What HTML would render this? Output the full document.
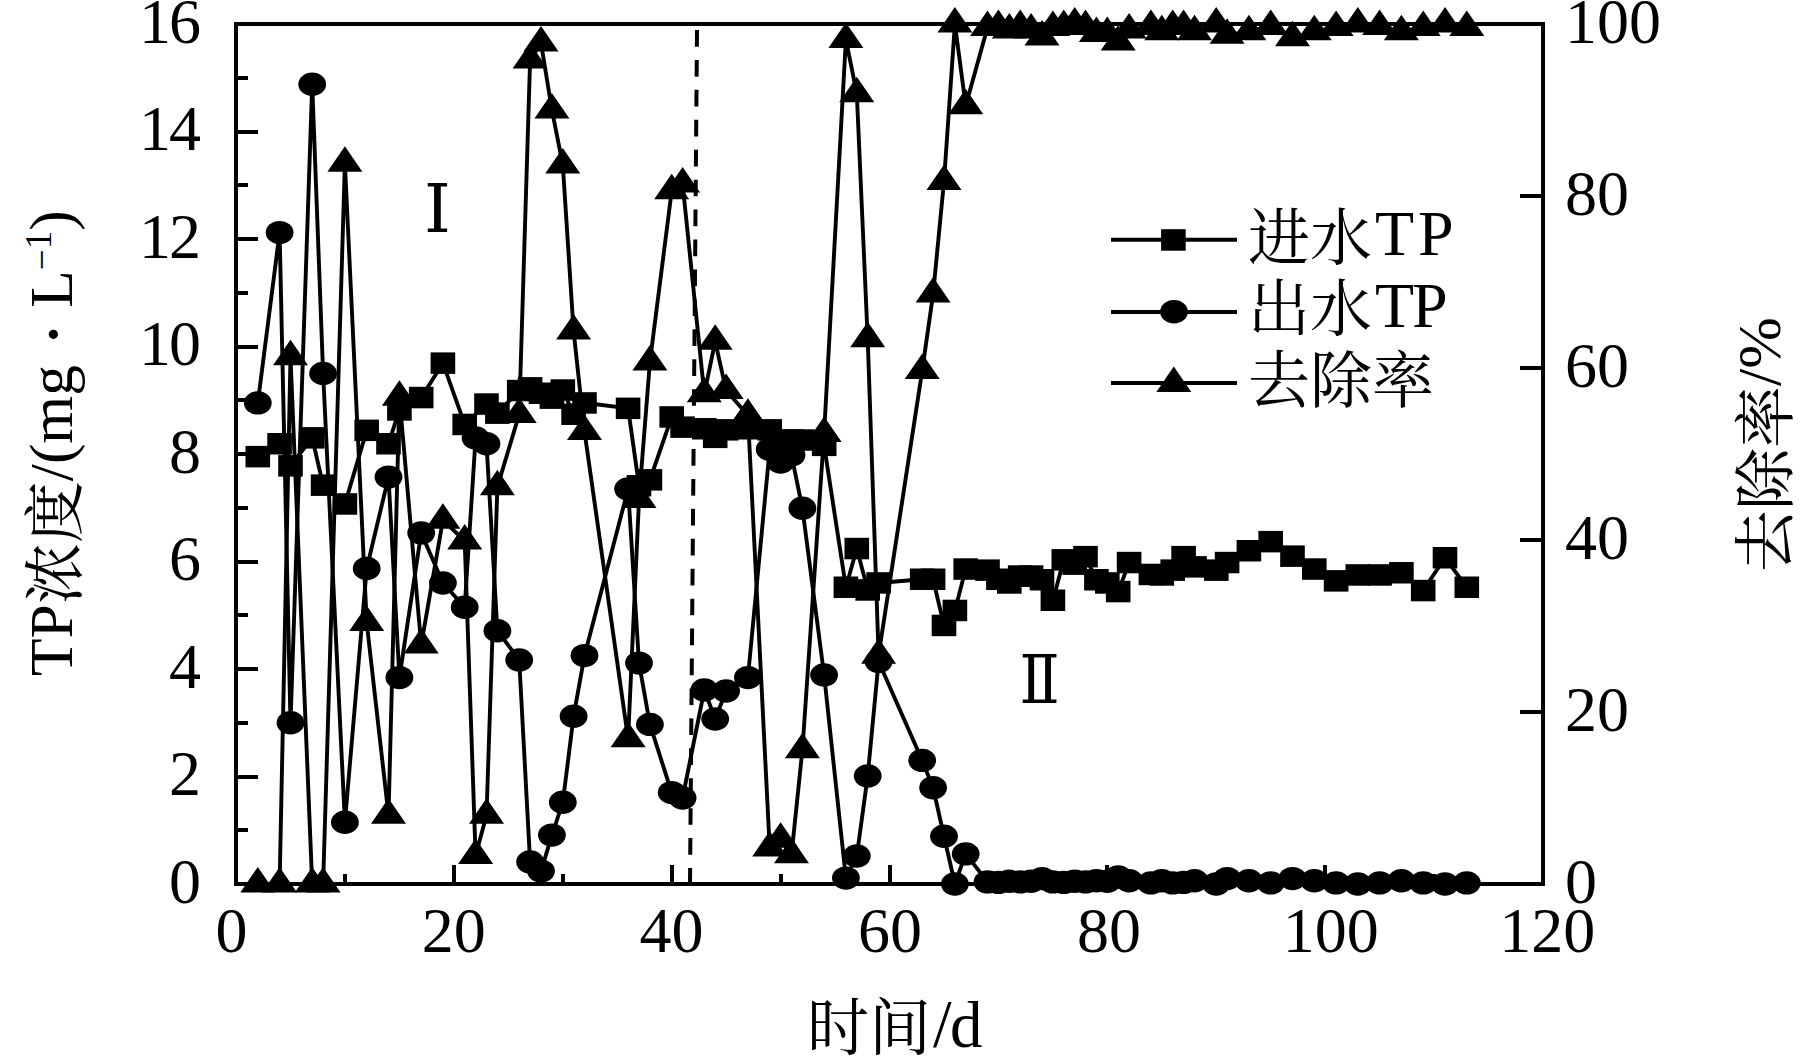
<!DOCTYPE html>
<html lang="zh-CN"><head><meta charset="utf-8"><title>TP浓度与去除率随时间变化</title>
<style>html,body{margin:0;padding:0;background:#fff;width:1819px;height:1056px;overflow:hidden}svg{display:block}</style>
</head><body>
<svg width="1819" height="1056" viewBox="0 0 1819 1056">
<rect width="1819" height="1056" fill="#fff"/>
<line x1="697" y1="30" x2="690" y2="884" stroke="#000" stroke-width="4" stroke-dasharray="16.7 13.23"/>
<g fill="none" stroke="#000" stroke-width="3.9" stroke-linejoin="miter" stroke-miterlimit="2">
<polyline points="257.8,456.7 279.6,443.8 290.5,465.8 312.2,437.9 323.1,485.2 344.9,504 366.7,430.4 388.5,443.8 399.4,409.9 421.2,397.6 442.9,363.2 464.7,424.4 486.5,404 497.4,413.2 519.2,390.6 530.1,387.9 541,393.3 551.9,398.1 562.8,390 573.6,414.2 584.5,402.9 628.1,408.3 639,485.7 649.9,479.8 671.7,416.9 682.6,427.1 704.3,428.7 715.2,437.3 726.1,429.8 747.9,428.7 769.7,429.8 780.6,440 791.5,440 802.4,440 824.1,445.4 845.9,587.3 856.8,548.6 867.7,590 878.6,583 922.2,579.2 933.1,579.2 944,625.5 954.9,610.4 965.7,569 987.5,570.1 998.4,579.2 1009.3,583 1020.2,576 1031.1,576 1042,579.8 1052.9,600.2 1063.8,559.9 1074.7,564.2 1085.5,556.7 1096.4,579.8 1107.3,583 1118.2,591.6 1129.1,562.6 1150.9,574.4 1161.8,574.9 1172.7,570.1 1183.6,556.7 1194.5,566.9 1216.2,570.1 1227.1,562.6 1248.9,550.8 1270.7,541.6 1292.5,556.1 1314.3,569 1336.1,580.9 1357.8,574.9 1379.6,574.9 1401.4,572.8 1423.2,590.5 1445,557.7 1466.8,587.3"/>
<polyline points="257.8,402.9 279.6,232.6 290.5,722.8 312.2,84.2 323.1,373.4 344.9,822.2 366.7,568.5 388.5,477.1 399.4,677.6 421.2,533 442.9,583 464.7,607.2 475.6,437.9 486.5,443.8 497.4,630.8 519.2,659.9 530.1,862 541,871.1 551.9,835.1 562.8,802.3 573.6,716.3 584.5,655.6 628.1,488.9 639,663.1 649.9,724.4 671.7,792.6 682.6,798 704.3,690 715.2,719 726.1,691 747.9,677.6 769.7,449.2 780.6,462.1 791.5,455.1 802.4,508.3 824.1,674.9 845.9,878.1 856.8,856 867.7,776 878.6,661.5 922.2,760.4 933.1,787.8 944,836.2 954.9,884 965.7,853.9 987.5,881.9 998.4,882.4 1009.3,881.3 1020.2,881.9 1031.1,881.3 1042,878.6 1052.9,881.9 1063.8,882.4 1074.7,881.3 1085.5,881.9 1096.4,880.8 1107.3,881.3 1118.2,877 1129.1,880.8 1150.9,882.9 1161.8,880.8 1172.7,882.9 1183.6,882.4 1194.5,880.8 1216.2,884 1227.1,878.6 1248.9,880.8 1270.7,882.9 1292.5,878.6 1314.3,880.8 1336.1,882.9 1357.8,884 1379.6,882.9 1401.4,880.8 1423.2,882.9 1445,884 1466.8,882.9"/>
<polyline points="257.8,884 279.6,884 290.5,356.8 312.2,884 323.1,884 344.9,163.3 366.7,622.6 388.5,815.2 399.4,397.2 421.2,644.9 442.9,520.2 464.7,540.9 475.6,855.6 486.5,815.2 497.4,486.7 519.2,414.4 530.1,60.1 541,42.9 551.9,110 562.8,165 573.6,331 584.5,431.6 628.1,738.7 639,499.6 649.9,362 671.7,190.8 682.6,184 704.3,393.8 715.2,341.3 726.1,390.4 747.9,415.3 769.7,847.9 780.6,839.3 791.5,854.8 802.4,749.8 824.1,433.4 845.9,39.5 856.8,93.7 867.7,338.8 878.6,655.2 922.2,370.6 933.1,294 944,181.4 954.9,24 965.7,105.7 987.5,27.4 998.4,26.6 1009.3,30 1020.2,26.6 1031.1,30 1042,36.9 1052.9,27.4 1063.8,26.6 1074.7,24 1085.5,26.6 1096.4,33.5 1107.3,33.5 1118.2,42.1 1129.1,30 1150.9,26.6 1161.8,31.7 1172.7,26.6 1183.6,26.6 1194.5,31.7 1216.2,24 1227.1,35.2 1248.9,31.7 1270.7,26.6 1292.5,37.8 1314.3,31.7 1336.1,27.4 1357.8,24 1379.6,26.6 1401.4,31.7 1423.2,27.4 1445,24 1466.8,27.4"/>
</g>
<g fill="#000">
<rect x="245.5" y="445.9" width="24.6" height="21.5"/>
<rect x="267.3" y="433" width="24.6" height="21.5"/>
<rect x="278.2" y="455.1" width="24.6" height="21.5"/>
<rect x="299.9" y="427.1" width="24.6" height="21.5"/>
<rect x="310.8" y="474.4" width="24.6" height="21.5"/>
<rect x="332.6" y="493.2" width="24.6" height="21.5"/>
<rect x="354.4" y="419.6" width="24.6" height="21.5"/>
<rect x="376.2" y="433" width="24.6" height="21.5"/>
<rect x="387.1" y="399.2" width="24.6" height="21.5"/>
<rect x="408.9" y="386.8" width="24.6" height="21.5"/>
<rect x="430.6" y="352.4" width="24.6" height="21.5"/>
<rect x="452.4" y="413.7" width="24.6" height="21.5"/>
<rect x="474.2" y="393.3" width="24.6" height="21.5"/>
<rect x="485.1" y="402.4" width="24.6" height="21.5"/>
<rect x="506.9" y="379.8" width="24.6" height="21.5"/>
<rect x="517.8" y="377.1" width="24.6" height="21.5"/>
<rect x="528.7" y="382.5" width="24.6" height="21.5"/>
<rect x="539.6" y="387.4" width="24.6" height="21.5"/>
<rect x="550.5" y="379.3" width="24.6" height="21.5"/>
<rect x="561.3" y="403.5" width="24.6" height="21.5"/>
<rect x="572.2" y="392.2" width="24.6" height="21.5"/>
<rect x="615.8" y="397.6" width="24.6" height="21.5"/>
<rect x="626.7" y="475" width="24.6" height="21.5"/>
<rect x="637.6" y="469.1" width="24.6" height="21.5"/>
<rect x="659.4" y="406.2" width="24.6" height="21.5"/>
<rect x="670.3" y="416.4" width="24.6" height="21.5"/>
<rect x="692" y="418" width="24.6" height="21.5"/>
<rect x="702.9" y="426.6" width="24.6" height="21.5"/>
<rect x="713.8" y="419.1" width="24.6" height="21.5"/>
<rect x="735.6" y="418" width="24.6" height="21.5"/>
<rect x="757.4" y="419.1" width="24.6" height="21.5"/>
<rect x="768.3" y="429.3" width="24.6" height="21.5"/>
<rect x="779.2" y="429.3" width="24.6" height="21.5"/>
<rect x="790.1" y="429.3" width="24.6" height="21.5"/>
<rect x="811.9" y="434.6" width="24.6" height="21.5"/>
<rect x="833.6" y="576.5" width="24.6" height="21.5"/>
<rect x="844.5" y="537.8" width="24.6" height="21.5"/>
<rect x="855.4" y="579.2" width="24.6" height="21.5"/>
<rect x="866.3" y="572.2" width="24.6" height="21.5"/>
<rect x="909.9" y="568.5" width="24.6" height="21.5"/>
<rect x="920.8" y="568.5" width="24.6" height="21.5"/>
<rect x="931.7" y="614.7" width="24.6" height="21.5"/>
<rect x="942.6" y="599.7" width="24.6" height="21.5"/>
<rect x="953.4" y="558.3" width="24.6" height="21.5"/>
<rect x="975.2" y="559.4" width="24.6" height="21.5"/>
<rect x="986.1" y="568.5" width="24.6" height="21.5"/>
<rect x="997" y="572.2" width="24.6" height="21.5"/>
<rect x="1007.9" y="565.3" width="24.6" height="21.5"/>
<rect x="1018.8" y="565.3" width="24.6" height="21.5"/>
<rect x="1029.7" y="569" width="24.6" height="21.5"/>
<rect x="1040.6" y="589.5" width="24.6" height="21.5"/>
<rect x="1051.5" y="549.1" width="24.6" height="21.5"/>
<rect x="1062.4" y="553.4" width="24.6" height="21.5"/>
<rect x="1073.2" y="545.9" width="24.6" height="21.5"/>
<rect x="1084.1" y="569" width="24.6" height="21.5"/>
<rect x="1095" y="572.2" width="24.6" height="21.5"/>
<rect x="1105.9" y="580.8" width="24.6" height="21.5"/>
<rect x="1116.8" y="551.8" width="24.6" height="21.5"/>
<rect x="1138.6" y="563.7" width="24.6" height="21.5"/>
<rect x="1149.5" y="564.2" width="24.6" height="21.5"/>
<rect x="1160.4" y="559.4" width="24.6" height="21.5"/>
<rect x="1171.3" y="545.9" width="24.6" height="21.5"/>
<rect x="1182.2" y="556.1" width="24.6" height="21.5"/>
<rect x="1204" y="559.4" width="24.6" height="21.5"/>
<rect x="1214.8" y="551.8" width="24.6" height="21.5"/>
<rect x="1236.6" y="540" width="24.6" height="21.5"/>
<rect x="1258.4" y="530.9" width="24.6" height="21.5"/>
<rect x="1280.2" y="545.4" width="24.6" height="21.5"/>
<rect x="1302" y="558.3" width="24.6" height="21.5"/>
<rect x="1323.8" y="570.1" width="24.6" height="21.5"/>
<rect x="1345.5" y="564.2" width="24.6" height="21.5"/>
<rect x="1367.3" y="564.2" width="24.6" height="21.5"/>
<rect x="1389.1" y="562" width="24.6" height="21.5"/>
<rect x="1410.9" y="579.8" width="24.6" height="21.5"/>
<rect x="1432.7" y="547" width="24.6" height="21.5"/>
<rect x="1454.5" y="576.5" width="24.6" height="21.5"/>
<ellipse cx="257.8" cy="402.9" rx="13.9" ry="11.7"/>
<ellipse cx="279.6" cy="232.6" rx="13.9" ry="11.7"/>
<ellipse cx="290.5" cy="722.8" rx="13.9" ry="11.7"/>
<ellipse cx="312.2" cy="84.2" rx="13.9" ry="11.7"/>
<ellipse cx="323.1" cy="373.4" rx="13.9" ry="11.7"/>
<ellipse cx="344.9" cy="822.2" rx="13.9" ry="11.7"/>
<ellipse cx="366.7" cy="568.5" rx="13.9" ry="11.7"/>
<ellipse cx="388.5" cy="477.1" rx="13.9" ry="11.7"/>
<ellipse cx="399.4" cy="677.6" rx="13.9" ry="11.7"/>
<ellipse cx="421.2" cy="533" rx="13.9" ry="11.7"/>
<ellipse cx="442.9" cy="583" rx="13.9" ry="11.7"/>
<ellipse cx="464.7" cy="607.2" rx="13.9" ry="11.7"/>
<ellipse cx="475.6" cy="437.9" rx="13.9" ry="11.7"/>
<ellipse cx="486.5" cy="443.8" rx="13.9" ry="11.7"/>
<ellipse cx="497.4" cy="630.8" rx="13.9" ry="11.7"/>
<ellipse cx="519.2" cy="659.9" rx="13.9" ry="11.7"/>
<ellipse cx="530.1" cy="862" rx="13.9" ry="11.7"/>
<ellipse cx="541" cy="871.1" rx="13.9" ry="11.7"/>
<ellipse cx="551.9" cy="835.1" rx="13.9" ry="11.7"/>
<ellipse cx="562.8" cy="802.3" rx="13.9" ry="11.7"/>
<ellipse cx="573.6" cy="716.3" rx="13.9" ry="11.7"/>
<ellipse cx="584.5" cy="655.6" rx="13.9" ry="11.7"/>
<ellipse cx="628.1" cy="488.9" rx="13.9" ry="11.7"/>
<ellipse cx="639" cy="663.1" rx="13.9" ry="11.7"/>
<ellipse cx="649.9" cy="724.4" rx="13.9" ry="11.7"/>
<ellipse cx="671.7" cy="792.6" rx="13.9" ry="11.7"/>
<ellipse cx="682.6" cy="798" rx="13.9" ry="11.7"/>
<ellipse cx="704.3" cy="690" rx="13.9" ry="11.7"/>
<ellipse cx="715.2" cy="719" rx="13.9" ry="11.7"/>
<ellipse cx="726.1" cy="691" rx="13.9" ry="11.7"/>
<ellipse cx="747.9" cy="677.6" rx="13.9" ry="11.7"/>
<ellipse cx="769.7" cy="449.2" rx="13.9" ry="11.7"/>
<ellipse cx="780.6" cy="462.1" rx="13.9" ry="11.7"/>
<ellipse cx="791.5" cy="455.1" rx="13.9" ry="11.7"/>
<ellipse cx="802.4" cy="508.3" rx="13.9" ry="11.7"/>
<ellipse cx="824.1" cy="674.9" rx="13.9" ry="11.7"/>
<ellipse cx="845.9" cy="878.1" rx="13.9" ry="11.7"/>
<ellipse cx="856.8" cy="856" rx="13.9" ry="11.7"/>
<ellipse cx="867.7" cy="776" rx="13.9" ry="11.7"/>
<ellipse cx="878.6" cy="661.5" rx="13.9" ry="11.7"/>
<ellipse cx="922.2" cy="760.4" rx="13.9" ry="11.7"/>
<ellipse cx="933.1" cy="787.8" rx="13.9" ry="11.7"/>
<ellipse cx="944" cy="836.2" rx="13.9" ry="11.7"/>
<ellipse cx="954.9" cy="884" rx="13.9" ry="11.7"/>
<ellipse cx="965.7" cy="853.9" rx="13.9" ry="11.7"/>
<ellipse cx="987.5" cy="881.9" rx="13.9" ry="11.7"/>
<ellipse cx="998.4" cy="882.4" rx="13.9" ry="11.7"/>
<ellipse cx="1009.3" cy="881.3" rx="13.9" ry="11.7"/>
<ellipse cx="1020.2" cy="881.9" rx="13.9" ry="11.7"/>
<ellipse cx="1031.1" cy="881.3" rx="13.9" ry="11.7"/>
<ellipse cx="1042" cy="878.6" rx="13.9" ry="11.7"/>
<ellipse cx="1052.9" cy="881.9" rx="13.9" ry="11.7"/>
<ellipse cx="1063.8" cy="882.4" rx="13.9" ry="11.7"/>
<ellipse cx="1074.7" cy="881.3" rx="13.9" ry="11.7"/>
<ellipse cx="1085.5" cy="881.9" rx="13.9" ry="11.7"/>
<ellipse cx="1096.4" cy="880.8" rx="13.9" ry="11.7"/>
<ellipse cx="1107.3" cy="881.3" rx="13.9" ry="11.7"/>
<ellipse cx="1118.2" cy="877" rx="13.9" ry="11.7"/>
<ellipse cx="1129.1" cy="880.8" rx="13.9" ry="11.7"/>
<ellipse cx="1150.9" cy="882.9" rx="13.9" ry="11.7"/>
<ellipse cx="1161.8" cy="880.8" rx="13.9" ry="11.7"/>
<ellipse cx="1172.7" cy="882.9" rx="13.9" ry="11.7"/>
<ellipse cx="1183.6" cy="882.4" rx="13.9" ry="11.7"/>
<ellipse cx="1194.5" cy="880.8" rx="13.9" ry="11.7"/>
<ellipse cx="1216.2" cy="884" rx="13.9" ry="11.7"/>
<ellipse cx="1227.1" cy="878.6" rx="13.9" ry="11.7"/>
<ellipse cx="1248.9" cy="880.8" rx="13.9" ry="11.7"/>
<ellipse cx="1270.7" cy="882.9" rx="13.9" ry="11.7"/>
<ellipse cx="1292.5" cy="878.6" rx="13.9" ry="11.7"/>
<ellipse cx="1314.3" cy="880.8" rx="13.9" ry="11.7"/>
<ellipse cx="1336.1" cy="882.9" rx="13.9" ry="11.7"/>
<ellipse cx="1357.8" cy="884" rx="13.9" ry="11.7"/>
<ellipse cx="1379.6" cy="882.9" rx="13.9" ry="11.7"/>
<ellipse cx="1401.4" cy="880.8" rx="13.9" ry="11.7"/>
<ellipse cx="1423.2" cy="882.9" rx="13.9" ry="11.7"/>
<ellipse cx="1445" cy="884" rx="13.9" ry="11.7"/>
<ellipse cx="1466.8" cy="882.9" rx="13.9" ry="11.7"/>
<polygon points="257.8,867 240.3,892.5 275.3,892.5"/>
<polygon points="279.6,867 262.1,892.5 297.1,892.5"/>
<polygon points="290.5,339.8 273,365.3 308,365.3"/>
<polygon points="312.2,867 294.7,892.5 329.7,892.5"/>
<polygon points="323.1,867 305.6,892.5 340.6,892.5"/>
<polygon points="344.9,146.3 327.4,171.8 362.4,171.8"/>
<polygon points="366.7,605.6 349.2,631.1 384.2,631.1"/>
<polygon points="388.5,798.2 371,823.7 406,823.7"/>
<polygon points="399.4,380.2 381.9,405.7 416.9,405.7"/>
<polygon points="421.2,627.9 403.7,653.4 438.7,653.4"/>
<polygon points="442.9,503.2 425.4,528.7 460.4,528.7"/>
<polygon points="464.7,523.9 447.2,549.4 482.2,549.4"/>
<polygon points="475.6,838.6 458.1,864.1 493.1,864.1"/>
<polygon points="486.5,798.2 469,823.7 504,823.7"/>
<polygon points="497.4,469.7 479.9,495.2 514.9,495.2"/>
<polygon points="519.2,397.4 501.7,422.9 536.7,422.9"/>
<polygon points="530.1,43.1 512.6,68.6 547.6,68.6"/>
<polygon points="541,25.9 523.5,51.4 558.5,51.4"/>
<polygon points="551.9,93 534.4,118.5 569.4,118.5"/>
<polygon points="562.8,148 545.2,173.5 580.2,173.5"/>
<polygon points="573.6,314 556.1,339.5 591.1,339.5"/>
<polygon points="584.5,414.6 567,440.1 602,440.1"/>
<polygon points="628.1,721.7 610.6,747.2 645.6,747.2"/>
<polygon points="639,482.6 621.5,508.1 656.5,508.1"/>
<polygon points="649.9,345 632.4,370.5 667.4,370.5"/>
<polygon points="671.7,173.8 654.2,199.3 689.2,199.3"/>
<polygon points="682.6,167 665.1,192.5 700.1,192.5"/>
<polygon points="704.3,376.8 686.8,402.3 721.8,402.3"/>
<polygon points="715.2,324.3 697.7,349.8 732.7,349.8"/>
<polygon points="726.1,373.4 708.6,398.9 743.6,398.9"/>
<polygon points="747.9,398.3 730.4,423.8 765.4,423.8"/>
<polygon points="769.7,830.9 752.2,856.4 787.2,856.4"/>
<polygon points="780.6,822.3 763.1,847.8 798.1,847.8"/>
<polygon points="791.5,837.8 774,863.3 809,863.3"/>
<polygon points="802.4,732.8 784.9,758.3 819.9,758.3"/>
<polygon points="824.1,416.4 806.6,441.9 841.6,441.9"/>
<polygon points="845.9,22.5 828.4,48 863.4,48"/>
<polygon points="856.8,76.7 839.3,102.2 874.3,102.2"/>
<polygon points="867.7,321.8 850.2,347.3 885.2,347.3"/>
<polygon points="878.6,638.2 861.1,663.7 896.1,663.7"/>
<polygon points="922.2,353.6 904.7,379.1 939.7,379.1"/>
<polygon points="933.1,277 915.6,302.5 950.6,302.5"/>
<polygon points="944,164.4 926.5,189.9 961.5,189.9"/>
<polygon points="954.9,7 937.4,32.5 972.4,32.5"/>
<polygon points="965.7,88.7 948.2,114.2 983.2,114.2"/>
<polygon points="987.5,10.4 970,35.9 1005,35.9"/>
<polygon points="998.4,9.6 980.9,35.1 1015.9,35.1"/>
<polygon points="1009.3,13 991.8,38.5 1026.8,38.5"/>
<polygon points="1020.2,9.6 1002.7,35.1 1037.7,35.1"/>
<polygon points="1031.1,13 1013.6,38.5 1048.6,38.5"/>
<polygon points="1042,19.9 1024.5,45.4 1059.5,45.4"/>
<polygon points="1052.9,10.4 1035.4,35.9 1070.4,35.9"/>
<polygon points="1063.8,9.6 1046.3,35.1 1081.3,35.1"/>
<polygon points="1074.7,7 1057.2,32.5 1092.2,32.5"/>
<polygon points="1085.5,9.6 1068,35.1 1103,35.1"/>
<polygon points="1096.4,16.5 1078.9,42 1113.9,42"/>
<polygon points="1107.3,16.5 1089.8,42 1124.8,42"/>
<polygon points="1118.2,25.1 1100.7,50.6 1135.7,50.6"/>
<polygon points="1129.1,13 1111.6,38.5 1146.6,38.5"/>
<polygon points="1150.9,9.6 1133.4,35.1 1168.4,35.1"/>
<polygon points="1161.8,14.7 1144.3,40.2 1179.3,40.2"/>
<polygon points="1172.7,9.6 1155.2,35.1 1190.2,35.1"/>
<polygon points="1183.6,9.6 1166.1,35.1 1201.1,35.1"/>
<polygon points="1194.5,14.7 1177,40.2 1212,40.2"/>
<polygon points="1216.2,7 1198.8,32.5 1233.8,32.5"/>
<polygon points="1227.1,18.2 1209.6,43.7 1244.6,43.7"/>
<polygon points="1248.9,14.7 1231.4,40.2 1266.4,40.2"/>
<polygon points="1270.7,9.6 1253.2,35.1 1288.2,35.1"/>
<polygon points="1292.5,20.8 1275,46.3 1310,46.3"/>
<polygon points="1314.3,14.7 1296.8,40.2 1331.8,40.2"/>
<polygon points="1336.1,10.4 1318.6,35.9 1353.6,35.9"/>
<polygon points="1357.8,7 1340.3,32.5 1375.3,32.5"/>
<polygon points="1379.6,9.6 1362.1,35.1 1397.1,35.1"/>
<polygon points="1401.4,14.7 1383.9,40.2 1418.9,40.2"/>
<polygon points="1423.2,10.4 1405.7,35.9 1440.7,35.9"/>
<polygon points="1445,7 1427.5,32.5 1462.5,32.5"/>
<polygon points="1466.8,10.4 1449.3,35.9 1484.3,35.9"/>
</g>
<g stroke="#000" stroke-width="4" fill="none" shape-rendering="crispEdges">
<rect x="236" y="24" width="1307" height="860"/>
<path d="M236 830.2h12 M236 776.5h22 M236 722.8h12 M236 669h22 M236 615.2h12 M236 561.5h22 M236 507.8h12 M236 454h22 M236 400.2h12 M236 346.5h22 M236 292.8h12 M236 239h22 M236 185.2h12 M236 131.5h22 M236 77.8h12 M1543 712h-23 M1543 540h-23 M1543 368h-23 M1543 196h-23 M344.9 884v-10 M453.8 884v-19 M562.8 884v-10 M671.7 884v-19 M780.6 884v-10 M889.5 884v-19 M998.4 884v-10 M1107.3 884v-19 M1216.2 884v-10 M1325.2 884v-19 M1434.1 884v-10"/>
</g>
<g font-family="Liberation Serif, serif" font-size="64" fill="#000">
<text x="201" y="902.6" text-anchor="end">0</text>
<text x="201" y="795.1" text-anchor="end">2</text>
<text x="201" y="687.6" text-anchor="end">4</text>
<text x="201" y="580.1" text-anchor="end">6</text>
<text x="201" y="472.6" text-anchor="end">8</text>
<text x="201" y="365.1" text-anchor="end">1<tspan dx="-2">0</tspan></text>
<text x="201" y="257.6" text-anchor="end">1<tspan dx="-2">2</tspan></text>
<text x="201" y="150.1" text-anchor="end">1<tspan dx="-2">4</tspan></text>
<text x="201" y="42.6" text-anchor="end">1<tspan dx="-2">6</tspan></text>
<text x="1565" y="902.6">0</text>
<text x="1565" y="730.6">20</text>
<text x="1565" y="558.6">40</text>
<text x="1565" y="386.6">60</text>
<text x="1565" y="214.6">80</text>
<text x="1565" y="42.6">100</text>
<text x="231.6" y="952" text-anchor="middle">0</text>
<text x="453.7" y="952" text-anchor="middle">20</text>
<text x="671.5" y="952" text-anchor="middle">40</text>
<text x="890" y="952" text-anchor="middle">60</text>
<text x="1109" y="952" text-anchor="middle">80</text>
<text x="1330.8" y="952" text-anchor="middle">100</text>
<text x="1547.3" y="952" text-anchor="middle">120</text>
</g>
<text x="437.5" y="232" font-family="DejaVu Serif, serif" font-size="68" text-anchor="middle">Ⅰ</text>
<text transform="translate(1039.6 703) scale(0.87 1)" font-family="DejaVu Serif, serif" font-size="68" text-anchor="middle">Ⅱ</text>
<g stroke="#000" stroke-width="4">
<line x1="1111" y1="239.7" x2="1237" y2="239.7"/>
<line x1="1111" y1="311.9" x2="1237" y2="311.9"/>
<line x1="1111" y1="382.9" x2="1237" y2="382.9"/>
</g><g fill="#000">
<rect x="1161.1" y="229.2" width="24.6" height="21.5"/>
<ellipse cx="1174" cy="311.7" rx="13.9" ry="11.7"/>
<polygon points="1173.8,366.4 1156.3,391.9 1191.3,391.9"/>
</g>
<g font-size="62" fill="#000" font-family="Liberation Serif, Noto Serif CJK SC, serif">
<text x="1248" y="259.7">进水<tspan x="1375" y="255" font-size="64">T</tspan><tspan x="1418" font-size="64">P</tspan></text>
<text x="1248" y="331.3">出水<tspan x="1375" y="326.6" font-size="64">T</tspan><tspan x="1412" font-size="64">P</tspan></text>
<text x="1248" y="403">去除率</text>
</g>
<g font-family="Liberation Serif, Noto Serif CJK SC, serif" fill="#000">
<text x="807" y="1050" font-size="62">时间<tspan x="933" y="1046" font-size="67">/</tspan><tspan x="950" y="1047" font-size="65">d</tspan></text>
<text transform="translate(71.7 676) rotate(-90)" font-size="61.5">TP<tspan dy="5">浓度</tspan><tspan dy="-5">/(mg </tspan><tspan dx="2.5" dy="7.6" font-size="78">·</tspan><tspan dy="-7.6" dx="-2"> L</tspan><tspan font-size="37" dy="-18">−</tspan><tspan font-size="37" dy="-3">1</tspan><tspan dy="21">)</tspan></text>
<text transform="translate(1780 572) rotate(-90)" font-size="62"><tspan dy="8">去除率</tspan><tspan dy="-8">/%</tspan></text>
</g>
</svg>
</body></html>
